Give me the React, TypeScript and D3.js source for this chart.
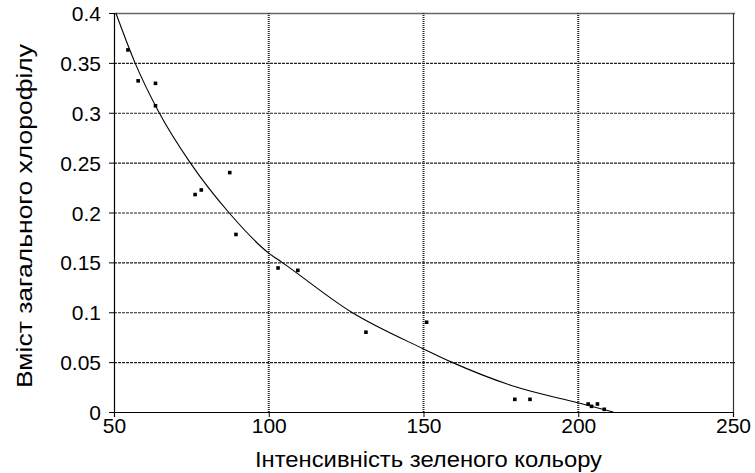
import React, { useRef, useEffect } from "react";
import * as d3 from "d3";

// measured points (green intensity -> chlorophyll content)
const xValues = [54.5, 57.8, 63.4, 63.4, 76.2, 78.2, 87.4, 89.4, 103, 109.4, 131.4, 151, 179.5, 184.4, 203.2, 204.3, 206.2, 208.4];
const yValues = [0.363, 0.332, 0.3295, 0.307, 0.218, 0.2226, 0.24, 0.178, 0.1444, 0.142, 0.08, 0.09, 0.0127, 0.0127, 0.008, 0.0057, 0.008, 0.0027];

// trend line
const trendX = [50.6, 56.8, 64.6, 74.6, 87.1, 100.1, 104.3, 126.8, 150.2, 159.1, 180, 200.2, 211.3];
const trendY = [0.4, 0.35, 0.3, 0.25, 0.2, 0.159, 0.15, 0.1, 0.063, 0.05, 0.025, 0.009, 0.0];

const xTicks = [50, 100, 150, 200, 250];
const yTicks = [0, 0.05, 0.1, 0.15, 0.2, 0.25, 0.3, 0.35, 0.4];
const yTickLabels = ["0", "0.05", "0.1", "0.15", "0.2", "0.25", "0.3", "0.35", "0.4"];

const xTitle = "Інтенсивність зеленого кольору";
const yTitle = "Вміст загального хлорофілу";

const WIDTH = 755;
const HEIGHT = 473;
const FONT = "'Liberation Sans', Arial, sans-serif";

const App = () => {
  const svgRef = useRef(null);

  useEffect(() => {
    const margin = { top: 13, right: 22, bottom: 61, left: 114 };
    const innerW = WIDTH - margin.left - margin.right;
    const innerH = HEIGHT - margin.top - margin.bottom;

    const x = d3.scaleLinear().domain([50, 250]).range([0, innerW]);
    const y = d3.scaleLinear().domain([0, 0.4]).range([innerH, 0]);

    const svg = d3.select(svgRef.current);
    svg.selectAll("*").remove();

    const g = svg.append("g").attr("transform", `translate(${margin.left},${margin.top})`);

    // horizontal gridlines
    g.selectAll(".hgrid")
      .data(yTicks.slice(1))
      .enter()
      .append("line")
      .attr("x1", 0)
      .attr("x2", innerW + 2)
      .attr("y1", d => y(d) + 0.5)
      .attr("y2", d => y(d) + 0.5)
      .attr("stroke", d => (d === 0.4 ? "#666" : "#222"))
      .attr("stroke-width", d => (d === 0.4 ? 1.6 : 1.1))
      .attr("stroke-dasharray", d => (d === 0.4 ? null : "3 1"));

    // vertical gridlines (dotted)
    g.selectAll(".vgrid")
      .data(xTicks.slice(1, -1))
      .enter()
      .append("line")
      .attr("x1", d => x(d))
      .attr("x2", d => x(d))
      .attr("y1", 0)
      .attr("y2", innerH)
      .attr("stroke", "#222")
      .attr("stroke-width", 2)
      .attr("stroke-dasharray", "1 1");

    // right border
    g.append("line")
      .attr("x1", innerW + 0.5)
      .attr("x2", innerW + 0.5)
      .attr("y1", 0)
      .attr("y2", innerH)
      .attr("stroke", "#333")
      .attr("stroke-width", 1.2);

    // axes
    const yAxis = d3.axisLeft(y)
      .tickValues(yTicks)
      .tickSize(5)
      .tickFormat((d, i) => yTickLabels[i]);
    const xAxis = d3.axisBottom(x)
      .tickValues(xTicks)
      .tickSize(5)
      .tickFormat(d3.format("d"));

    const ya = g.append("g").call(yAxis);
    const xa = g.append("g").attr("transform", `translate(0,${innerH})`).call(xAxis);

    [ya, xa].forEach(a => {
      a.select(".domain").attr("stroke", "#000").attr("stroke-width", 1.2);
      a.selectAll(".tick line").attr("stroke", "#000");
      a.selectAll("text")
        .attr("fill", "#000")
        .style("font-family", FONT)
        .style("font-size", "21px");
    });
    ya.selectAll("text").attr("x", -13).attr("dy", "0.36em");
    xa.selectAll("text").attr("y", 6).attr("dy", "0.71em");

    // trend line
    const line = d3.line()
      .x(i => x(trendX[i]))
      .y(i => y(trendY[i]))
      .curve(d3.curveMonotoneX);

    g.append("path")
      .attr("d", line(d3.range(trendX.length)))
      .attr("fill", "none")
      .attr("stroke", "#000")
      .attr("stroke-width", 1.1);

    // markers
    const s = 3.6;
    g.selectAll(".pt")
      .data(d3.range(xValues.length))
      .enter()
      .append("rect")
      .attr("x", i => x(xValues[i]) - s / 2)
      .attr("y", i => y(yValues[i]) - s / 2)
      .attr("width", s)
      .attr("height", s)
      .attr("fill", "#000");

    // titles (stretched to the original widths)
    svg.append("text")
      .attr("x", 255)
      .attr("y", 467)
      .attr("textLength", 347)
      .attr("lengthAdjust", "spacingAndGlyphs")
      .style("font-family", FONT)
      .style("font-size", "22px")
      .text(xTitle);

    svg.append("text")
      .attr("transform", `translate(32,388) rotate(-90)`)
      .attr("textLength", 344)
      .attr("lengthAdjust", "spacingAndGlyphs")
      .style("font-family", FONT)
      .style("font-size", "22px")
      .text(yTitle);
  }, []);

  return (
    <svg
      ref={svgRef}
      width={WIDTH}
      height={HEIGHT}
      style={{ position: "absolute", left: 0, top: 0, background: "#fff" }}
    ></svg>
  );
};

export default App;
